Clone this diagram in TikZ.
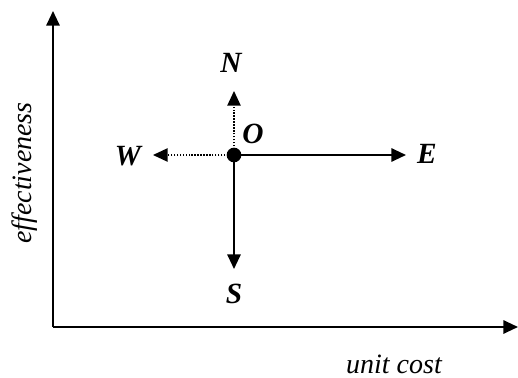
\documentclass[tikz,border=0pt]{standalone}
\usepackage{fontspec}
\setmainfont{Liberation Serif}
\usetikzlibrary{arrows.meta,positioning}
\tikzset{
    axis/.style={line width=1.5pt, -{Triangle[length=11pt,width=10pt]}},
    dirline/.style={line width=1.5pt, -{Triangle[length=11pt,width=10pt]}},
    dirdots/.style={line width=1.1pt, dash pattern=on 1.1pt off 1.1pt, -{Triangle[length=11pt,width=10pt]}},
    point/.style={circle, fill=black, minimum size=11pt, inner sep=0},
    compass/.style={anchor=base, inner sep=0, font=\fontsize{22}{26}\selectfont\bfseries\itshape},
    axlabel/.style={inner sep=0, font=\fontsize{21}{25}\selectfont\itshape},
}
\begin{document}
\begin{tikzpicture}[x=0.75pt, y=-0.75pt]
    \useasboundingbox (0,0) rectangle (518,378);

    % axes
    \coordinate (orig) at (53,327);
    \coordinate (ytip) at (53,11);
    \coordinate (xtip) at (518,327);
    \draw[axis] (orig) -- (ytip);
    \draw[axis] (orig) -- (xtip);
    \node[axlabel, rotate=90] (yl) at (25,173) {effectiveness};
    \node[axlabel, anchor=base] (xl) at (394,373) {unit cost};

    % point and directions
    \node[point] (o) at (234,155) {};
    \coordinate (ntip) at (234,91);
    \coordinate (stip) at (234,269);
    \coordinate (etip) at (406,155);
    \coordinate (wtip) at (153,155);
    \draw[dirdots] (o.center) -- (ntip);
    \draw[dirdots] (o.center) -- (wtip);
    \draw[dirline] (o.center) -- (etip);
    \draw[dirline] (o.center) -- (stip);

    \node[compass] (ol) at (253,143) {O};
    \node[compass] (nl) at (231,73) {N};
    \node[compass] (sl) at (234,303) {S};
    \node[compass] (el) at (427,163) {E};
    \node[compass] (wl) at (128,166) {W};
\end{tikzpicture}
\end{document}
